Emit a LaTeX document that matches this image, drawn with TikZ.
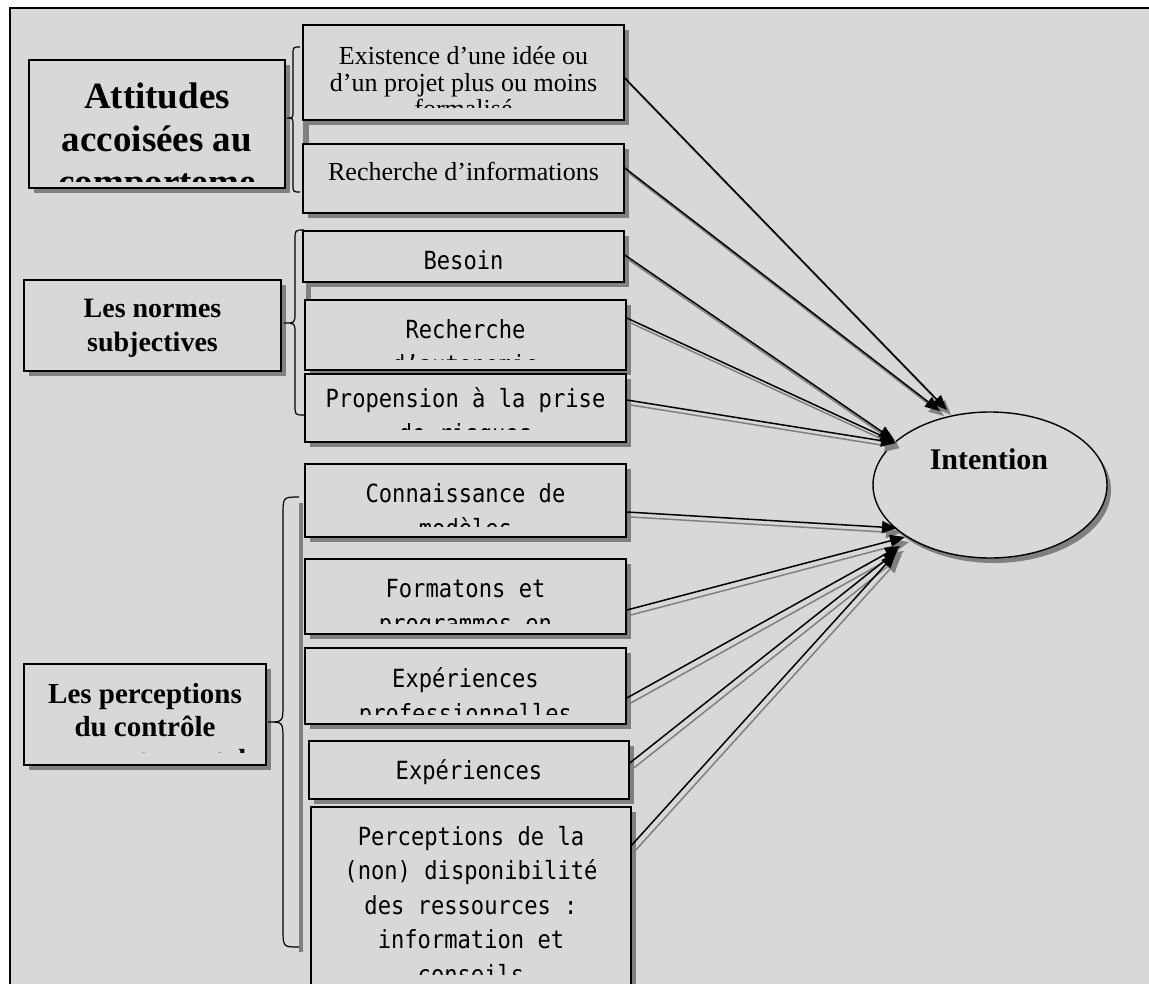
\documentclass[tikz,border=0pt]{standalone}
\usepackage{fontspec}
\setmainfont{Liberation Serif}
\newfontfamily\gothic[FakeStretch=0.885]{DejaVu Sans Mono}
\usetikzlibrary{shadows,arrows.meta,shapes.geometric}
\definecolor{bg}{RGB}{216,216,216}
\definecolor{shgray}{RGB}{128,128,128}
\tikzset{
  box/.style={draw=black, line width=1.6pt, fill=bg, rectangle, inner sep=0pt,
    drop shadow={shadow xshift=5pt, shadow yshift=-5pt, opacity=1, fill=shgray}},
  ell/.style={draw=black, line width=1.4pt, fill=bg, ellipse, inner sep=0pt,
    drop shadow={shadow xshift=4pt, shadow yshift=-5pt, opacity=1, fill=shgray}},
  txt/.style={anchor=north, inner sep=0pt, align=center},
  big/.style={txt, font=\fontsize{37}{43}\selectfont\bfseries},
  head/.style={txt, font=\fontsize{28}{34}\selectfont\bfseries},
  headc/.style={txt, font=\fontsize{29}{33}\selectfont\bfseries},
  serif/.style={txt, font=\fontsize{26}{26.5}\selectfont},
  mono/.style={txt, font=\fontsize{25}{35}\selectfont\gothic},
  monop/.style={txt, font=\fontsize{25}{34.5}\selectfont\gothic},
  brace/.style={draw=black, line width=1.2pt},
  arr/.style={draw=black, line width=1.5pt, -{Triangle[length=15pt,width=12pt]}},
  arrsh/.style={draw=shgray, line width=1.5pt, -{Triangle[length=15pt,width=12pt]},
    transform canvas={xshift=4pt,yshift=-5pt}},
}
\newcommand{\fs}{\rule{0pt}{0.9em}}
\begin{document}
\begin{tikzpicture}[x=1pt,y=-1pt]
\clip (0,0) rectangle (1149,983);
\fill[white] (0,0) rectangle (1149,983);
\draw[line width=1.6pt, fill=bg] (10,8) rectangle (1200,1050);

% stray shadow pieces
\fill[shgray] (303,121) rectangle (309,144);
\fill[shgray] (306,283) rectangle (311,300);
\fill[shgray] (299,503) rectangle (303,952);

% left category boxes
\node[box, minimum width=256pt, minimum height=128pt] (A) at (157,124) {};
\node[box, minimum width=257pt, minimum height=91pt] (B) at (152.5,325.5) {};
\node[box, minimum width=242pt, minimum height=101pt] (C) at (145,714.5) {};

% item boxes
\node[box, minimum width=321pt, minimum height=95pt] (E1) at (463.5,72.5) {};
\node[box, minimum width=321pt, minimum height=69pt] (E2) at (463.5,178.5) {};
\node[box, minimum width=321pt, minimum height=51pt] (N1) at (463.5,256.5) {};
\node[box, minimum width=321pt, minimum height=70pt] (N2) at (465.5,335) {};
\node[box, minimum width=321pt, minimum height=68pt] (N3) at (465.5,408) {};
\node[box, minimum width=321pt, minimum height=73pt] (P1) at (465.5,500.5) {};
\node[box, minimum width=321pt, minimum height=75pt] (P2) at (465.5,596.5) {};
\node[box, minimum width=321pt, minimum height=76pt] (P3) at (465.5,686) {};
\node[box, minimum width=320pt, minimum height=58pt] (P4) at (469,770) {};
\node[box, minimum width=320pt, minimum height=203pt] (P5) at (471,908.5) {};

% ellipse
\node[ell, minimum width=234pt, minimum height=146pt] (I) at (990,485) {};
\node[txt, font=\fontsize{30}{30}\selectfont\bfseries] (It) at (989,442) {\fs Intention};

% texts (clipped as in the picture)
\begin{scope}\clip (29,60) rectangle (285,181);
\node[big] (At) at (157,74.7) {\fs Attitudes\\accoisées au\\comporteme};
\end{scope}
\node[head] (Bt) at (152.5,291.8) {\fs Les normes\\subjectives};
\begin{scope}\clip (24,664) rectangle (266,752);
\node[headc] (Ct) at (145,676.9) {\fs Les perceptions\\du contrôle\\comportemental};
\end{scope}
\begin{scope}\clip (303,25) rectangle (624,107);
\node[serif] (E1t) at (463.5,41) {\fs Existence d’une idée ou\\d’un projet plus ou moins\\formalisé};
\end{scope}
\node[serif] (E2t) at (463.5,156.6) {\fs Recherche d’informations};
\node[mono] (N1t) at (463.5,246.5) {\fs Besoin};
\begin{scope}\clip (305,300) rectangle (626,359);
\node[mono] (N2t) at (465.5,315.5) {\fs Recherche\\d’autonomie};
\end{scope}
\begin{scope}\clip (305,374) rectangle (626,429);
\node[mono] (N3t) at (465.5,384.5) {\fs Propension à la prise\\de risques};
\end{scope}
\begin{scope}\clip (305,464) rectangle (626,526);
\node[mono] (P1t) at (465.5,479.5) {\fs Connaissance de\\modèles};
\end{scope}
\begin{scope}\clip (305,559) rectangle (626,623);
\node[mono] (P2t) at (465.5,574.5) {\fs Formatons et\\programmes en};
\end{scope}
\begin{scope}\clip (305,648) rectangle (626,714);
\node[mono] (P3t) at (465.5,664.5) {\fs Expériences\\professionnelles};
\end{scope}
\node[mono] (P4t) at (469,756.5) {\fs Expériences};
\begin{scope}\clip (311,807) rectangle (631,974);
\node[monop] (P5t) at (471,822.5) {\fs Perceptions de la\\(non) disponibilité\\des ressources :\\information et\\conseils};
\end{scope}

% braces
\draw[brace] (300,47) .. controls (293,47) .. (293,55) -- (293,110)
  .. controls (293,118) .. (287,118) .. controls (293,118) .. (293,126)
  -- (293,184) .. controls (293,192) .. (300,192);
\draw[brace] (304,230) .. controls (295,230) .. (295,240) -- (295,313)
  .. controls (295,323) .. (284,323) .. controls (295,323) .. (295,333)
  -- (295,405) .. controls (295,415) .. (304,415);
\draw[brace] (299,497) .. controls (283,497) .. (283,515) -- (283,704)
  .. controls (283,722) .. (268,722) .. controls (283,722) .. (283,740)
  -- (283,929) .. controls (283,947) .. (299,947);

% arrow targets
\coordinate (tE1) at (947,410);
\coordinate (tE2) at (940,411);
\coordinate (tN1) at (894,440);
\coordinate (tN2) at (895,442);
\coordinate (tN3) at (896,443);
\coordinate (tP1) at (897,528);
\coordinate (tP2) at (905,537);
\coordinate (tP3) at (900,546);
\coordinate (tP4) at (898,550);
\coordinate (tP5) at (896,553);

% arrow shadows
\draw[arrsh] ([yshift=-5.5pt]E1.east) -- (tE1);
\draw[arrsh] ([yshift=10.5pt]E2.east) -- (tE2);
\draw[arrsh] ([yshift=1.5pt]N1.east) -- (tN1);
\draw[arrsh] ([yshift=17pt]N2.east) -- (tN2);
\draw[arrsh] ([yshift=8pt]N3.east) -- (tN3);
\draw[arrsh] ([yshift=-11.5pt]P1.east) -- (tP1);
\draw[arrsh] ([yshift=-13.5pt]P2.east) -- (tP2);
\draw[arrsh] ([yshift=-12pt]P3.east) -- (tP3);
\draw[arrsh] ([yshift=7pt]P4.east) -- (tP4);
\draw[arrsh] ([yshift=63.5pt]P5.east) -- (tP5);
% arrows
\draw[arr] ([yshift=-5.5pt]E1.east) -- (tE1);
\draw[arr] ([yshift=10.5pt]E2.east) -- (tE2);
\draw[arr] ([yshift=1.5pt]N1.east) -- (tN1);
\draw[arr] ([yshift=17pt]N2.east) -- (tN2);
\draw[arr] ([yshift=8pt]N3.east) -- (tN3);
\draw[arr] ([yshift=-11.5pt]P1.east) -- (tP1);
\draw[arr] ([yshift=-13.5pt]P2.east) -- (tP2);
\draw[arr] ([yshift=-12pt]P3.east) -- (tP3);
\draw[arr] ([yshift=7pt]P4.east) -- (tP4);
\draw[arr] ([yshift=63.5pt]P5.east) -- (tP5);
\end{tikzpicture}
\end{document}
